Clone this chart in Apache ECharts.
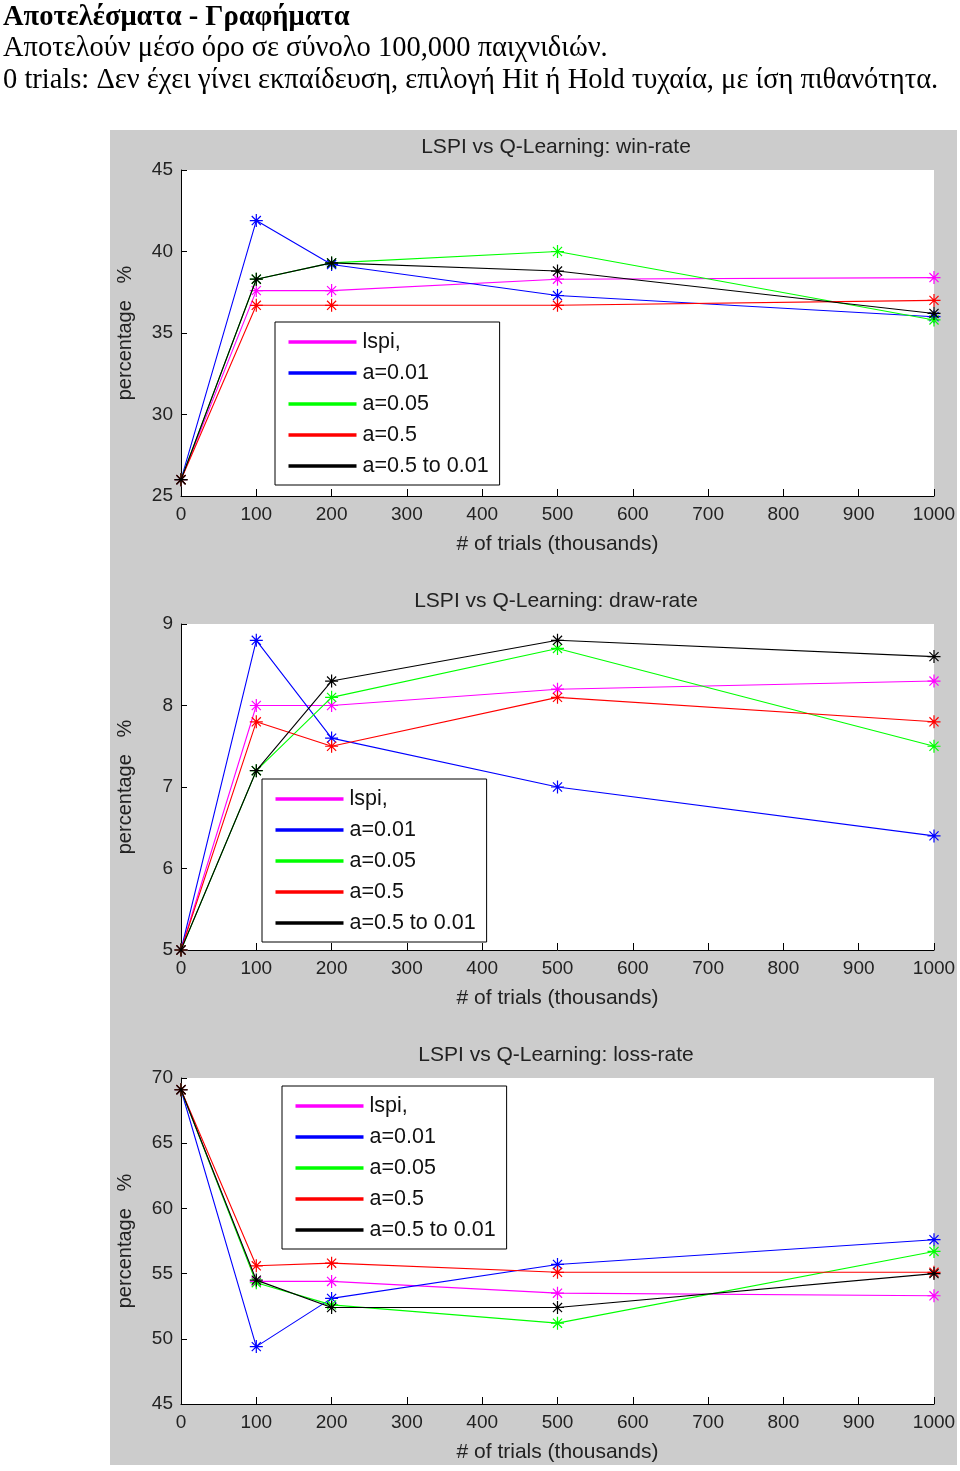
<!DOCTYPE html>
<html>
<head>
<meta charset="utf-8">
<script src="https://cdn.jsdelivr.net/npm/echarts@6/dist/echarts.min.js"></script>
<style>
html,body{margin:0;padding:0;background:#fff;}
#chart{width:960px;height:1471px;}
</style>
</head>
<body>
<div id="chart"></div>
<script>
// ---- data ----
const trials = [0, 100, 200, 500, 1000];
const seriesNames = ['lspi,', 'a=0.01', 'a=0.05', 'a=0.5', 'a=0.5 to 0.01'];
const seriesColors = ['#ff00ff', '#0000ff', '#00ff00', '#ff0000', '#000000'];

const winLspi   = [26.0, 37.6, 37.6, 38.3, 38.4];
const winA001   = [26.0, 41.9, 39.2, 37.3, 36.0];
const winA005   = [26.0, 38.3, 39.3, 40.0, 35.8];
const winA05    = [26.0, 36.7, 36.7, 36.7, 37.0];
const winSched  = [26.0, 38.3, 39.3, 38.8, 36.2];

const drawLspi  = [5.0, 8.0, 8.0, 8.2, 8.3];
const drawA001  = [5.0, 8.8, 7.6, 7.0, 6.4];
const drawA005  = [5.0, 7.2, 8.1, 8.7, 7.5];
const drawA05   = [5.0, 7.8, 7.5, 8.1, 7.8];
const drawSched = [5.0, 7.2, 8.3, 8.8, 8.6];

const lossLspi  = [69.1, 54.4, 54.4, 53.5, 53.3];
const lossA001  = [69.1, 49.4, 53.1, 55.7, 57.6];
const lossA005  = [69.1, 54.3, 52.6, 51.2, 56.7];
const lossA05   = [69.1, 55.6, 55.8, 55.1, 55.1];
const lossSched = [69.1, 54.5, 52.4, 52.4, 55.0];

const xTicks = [0, 100, 200, 300, 400, 500, 600, 700, 800, 900, 1000];
const panelTitles = ['LSPI vs Q-Learning: win-rate', 'LSPI vs Q-Learning: draw-rate', 'LSPI vs Q-Learning: loss-rate'];
const yRanges = [[25, 45, 5], [5, 9, 1], [45, 70, 5]];
const xName = '# of trials (thousands)';
const yName = 'percentage   %';
const headerLines = [
  'Αποτελέσματα - Γραφήματα',
  'Αποτελούν μέσο όρο σε σύνολο 100,000 παιχνιδιών.',
  '0 trials: Δεν έχει γίνει εκπαίδευση, επιλογή Hit ή Hold τυχαία, με ίση πιθανότητα.'
];

const panels = [
  [winLspi, winA001, winA005, winA05, winSched],
  [drawLspi, drawA001, drawA005, drawA05, drawSched],
  [lossLspi, lossA001, lossA005, lossA05, lossSched]
];

// ---- layout ----
const gridTops = [170, 624, 1078];
const gridH = 326;
const gridLeft = 181;
const gridW = 753;
const legendPos = [[275, 322], [262, 779], [282, 1086]];
const FONT = 'Liberation Sans, Arial, sans-serif';
const star = 'path://M0,-10L0,10M-10,0L10,0M-7,-7L7,7M-7,7L7,-7';

const grids = [], xAxes = [], yAxes = [], series = [], titles = [], legends = [];
panels.forEach((pdata, p) => {
  grids.push({left: gridLeft, top: gridTops[p], width: gridW, height: gridH,
    show: true, backgroundColor: '#ffffff', borderWidth: 0, containLabel: false});
  xAxes.push({type: 'value', gridIndex: p, min: 0, max: 1000, interval: 100,
    axisLine: {show: true, onZero: false, lineStyle: {color: '#000', width: 1}},
    axisTick: {show: true, inside: true, length: 7, lineStyle: {color: '#000'}},
    axisLabel: {color: '#222', fontSize: 19, fontFamily: FONT, margin: 9,
      formatter: v => xTicks.includes(v) ? String(v) : ''},
    splitLine: {show: false},
    name: xName, nameLocation: 'middle', nameGap: 38,
    nameTextStyle: {color: '#222', fontSize: 21, fontFamily: FONT}});
  const [mn, mx, iv] = yRanges[p];
  yAxes.push({type: 'value', gridIndex: p, min: mn, max: mx, interval: iv,
    axisLine: {show: true, onZero: false, lineStyle: {color: '#000', width: 1}},
    axisTick: {show: true, inside: true, length: 6, lineStyle: {color: '#000'}},
    axisLabel: {color: '#222', fontSize: 19, fontFamily: FONT, margin: 8},
    splitLine: {show: false},
    name: yName, nameLocation: 'middle', nameGap: 46, nameRotate: 90,
    nameTextStyle: {color: '#222', fontSize: 20, fontFamily: FONT}});
  titles.push({text: panelTitles[p], left: 551, top: gridTops[p] - 38, textAlign: 'center',
    textStyle: {color: '#222', fontSize: 21, fontWeight: 'normal', fontFamily: FONT}});
  legends.push({show: true, orient: 'vertical', left: legendPos[p][0], top: legendPos[p][1],
    data: seriesNames, backgroundColor: '#fff', borderColor: '#000', borderWidth: 1,
    padding: [9, 11, 8, 12], itemGap: 9, itemWidth: 66, itemHeight: 1.6, icon: 'rect',
    selectedMode: false,
    textStyle: {color: '#111', fontSize: 21.5, fontFamily: FONT, padding: [0, 0, 0, 2]}});
  pdata.forEach((vals, i) => {
    series.push({type: 'line', name: seriesNames[i], xAxisIndex: p, yAxisIndex: p,
      data: trials.map((t, k) => [t, vals[k]]),
      symbol: star, symbolSize: 13, showSymbol: true,
      lineStyle: {color: seriesColors[i], width: 1.1},
      itemStyle: {color: 'none', borderColor: seriesColors[i], borderWidth: 1.2},
      color: seriesColors[i],
      animation: false, z: 2 + i});
  });
});

const chart = echarts.init(document.getElementById('chart'), null, {renderer: 'canvas'});
chart.setOption({
  animation: false,
  backgroundColor: '#ffffff',
  title: titles,
  legend: legends,
  grid: grids,
  xAxis: xAxes,
  yAxis: yAxes,
  series: series,
  graphic: [
    {type: 'rect', z: -10, silent: true, shape: {x: 110, y: 130, width: 847, height: 1335}, style: {fill: '#cccccc'}},
    {type: 'text', left: 3, top: 3, style: {text: headerLines[0], font: 'bold 28.5px "Liberation Serif", serif', fill: '#000'}},
    {type: 'text', left: 3, top: 34, style: {text: headerLines[1], font: '28.5px "Liberation Serif", serif', fill: '#000'}},
    {type: 'text', left: 3, top: 66, style: {text: headerLines[2], font: '28.5px "Liberation Serif", serif', fill: '#000'}}
  ]
});
</script>
</body>
</html>
